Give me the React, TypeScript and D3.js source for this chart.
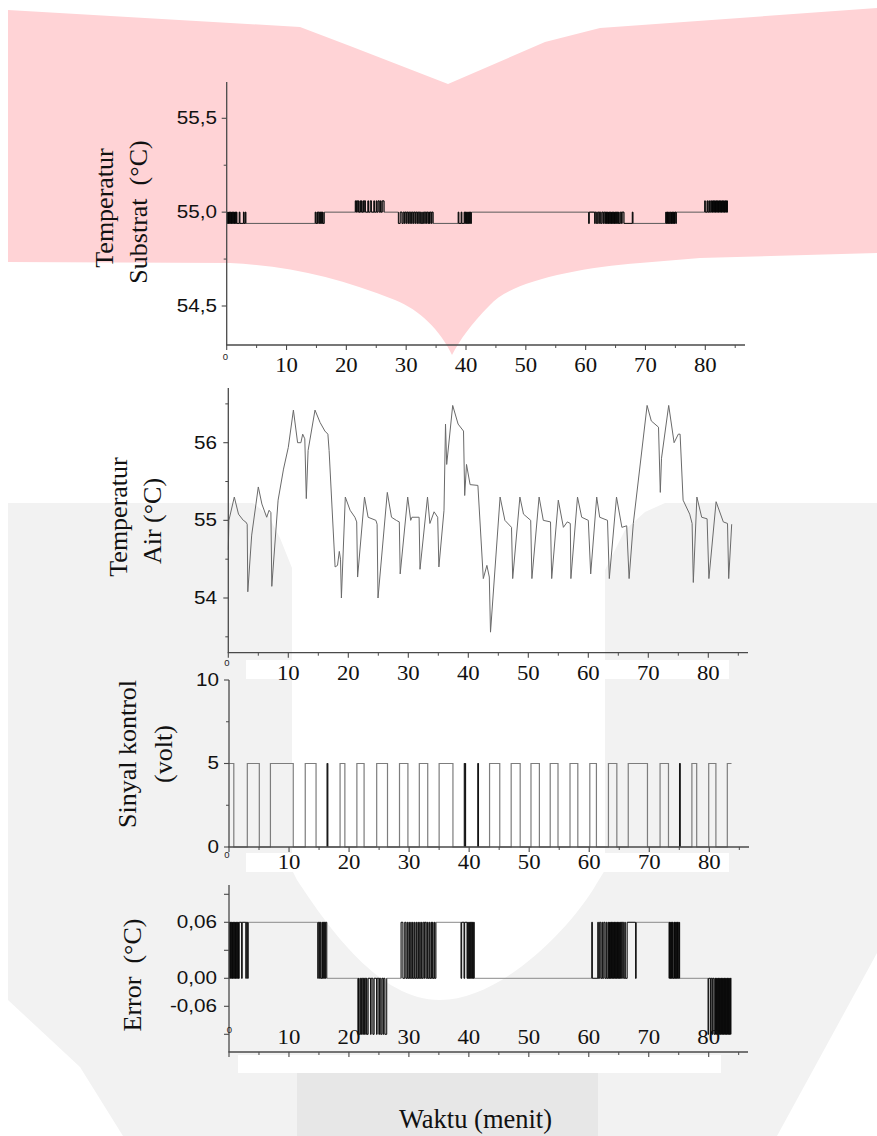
import React from 'react';
import * as d3 from 'd3';

// ---------------- DATA ----------------
const xTickValues = [0, 10, 20, 30, 40, 50, 60, 70, 80];
const xTickLabelValues = [10, 20, 30, 40, 50, 60, 70, 80];
const xMinorTicks = [5, 15, 25, 35, 45, 55, 65, 75, 85];

const substratTicks = [54.5, 55.0, 55.5];
const substratTickLabels = ['54,5', '55,0', '55,5'];
const substratMinor = [54.75, 55.25];

const airTicks = [54, 55, 56];
const airTickLabels = ['54', '55', '56'];
const airMinor = [53.5, 54.5, 55.5, 56.5];

const controlTicks = [0, 5, 10];
const controlTickLabels = ['0', '5', '10'];
const controlMinor = [2.5, 7.5];

const errorTicks = [-0.06, -0.03, 0, 0.03, 0.06, 0.09];
const errorLabelValues = [0.06, 0, -0.03];
const errorTickLabels = ['0,06', '0,00', '-0,06'];

// substrate temperature: set point and chatter bursts between two levels
const setpoint = 55.0;
const substratStart = 55.0;
const substratEnd = 83.8;
const substratBursts = [
  { a: 55.0, b: 54.94, t: [0.05, 0.15, 0.2, 0.3, 0.35, 0.45, 0.55, 0.6, 0.7, 0.8, 0.85, 0.95, 1.05, 1.1, 1.2, 1.3, 1.35, 1.45, 1.55, 1.6, 1.7, 2.1, 2.2, 2.8, 2.9, 3.1, 3.2] },
  { a: 54.94, b: 55.0, t: [14.8, 14.9, 15.1, 15.2, 15.3, 15.5, 15.6, 15.7, 15.8, 15.9, 16.0, 16.1, 16.3] },
  { a: 55.0, b: 55.06, t: [21.5, 21.6, 21.7, 21.9, 22.0, 22.1, 22.3, 22.4, 22.5, 22.6, 22.8, 22.9, 23.0, 23.2, 23.6, 23.7, 24.0, 24.2, 24.6, 24.7, 25.0, 25.1, 25.3, 25.5, 25.7, 25.8, 26.0, 26.3] },
  { a: 55.0, b: 54.94, t: [28.7, 29.0, 29.3, 29.5, 29.7, 29.8, 30.0, 30.1, 30.3, 30.4, 30.6, 30.7, 30.9, 31.0, 31.2, 31.3, 31.5, 31.6, 31.8, 31.9, 32.1, 32.2, 32.4, 32.6, 32.7, 32.9, 33.1, 33.2, 33.4, 33.5, 33.7, 33.8, 33.9, 34.0, 34.2, 34.3, 34.5] },
  { a: 54.94, b: 55.0, t: [38.7, 38.8, 39.2, 39.3, 39.7, 39.8, 39.9, 40.0, 40.1, 40.2, 40.3, 40.4, 40.5, 40.6, 40.7, 40.8, 40.9] },
  { a: 55.0, b: 54.94, t: [60.5, 60.6, 61.5, 61.6, 61.8, 62.0, 62.2, 62.3, 62.5, 62.7, 62.9, 63.0, 63.2, 63.3, 63.4, 63.45, 63.55, 63.6, 63.7, 63.8, 63.85, 63.95, 64.05, 64.1, 64.2, 64.3, 64.35, 64.45, 64.55, 64.6, 64.7, 64.8, 64.85, 64.95, 65.05, 65.1, 65.2, 65.3, 65.4, 65.5, 65.6, 65.8, 66.0, 66.1, 66.4, 67.8, 67.9] },
  { a: 54.94, b: 55.0, t: [73.4, 73.45, 73.55, 73.65, 73.7, 73.8, 73.9, 73.95, 74.05, 74.2, 74.3, 74.35, 74.45, 74.55, 74.6, 74.7, 74.8, 74.85, 74.95, 75.1, 75.15] },
  { a: 55.0, b: 55.06, t: [79.9, 80.0, 80.3, 80.4, 80.6, 80.7, 80.9, 81.05, 81.15, 81.2, 81.3, 81.4, 81.45, 81.55, 81.65, 81.7, 81.8, 81.9, 81.95, 82.05, 82.15, 82.2, 82.3, 82.4, 82.45, 82.55, 82.65, 82.7, 82.8, 82.9, 82.95, 83.05, 83.15, 83.2, 83.3, 83.4, 83.45, 83.55, 83.65, 83.7] },
];

// water temperature (time [min], °C)
const airTemperature: [number, number][] = [
  [0, 54.62], [0.1, 55.0], [1.0, 55.3], [1.7, 55.08], [2.5, 55.0], [2.9, 54.98], [3.15, 54.95], [3.25, 54.08],
  [3.9, 54.81], [5.0, 55.43], [5.6, 55.21], [6.4, 55.04], [6.8, 55.13], [7.1, 55.1], [7.25, 54.15], [8.3, 55.26],
  [9.2, 55.66], [10.0, 55.94], [10.85, 56.42], [11.55, 56.0], [12.1, 56.0], [12.4, 56.11], [12.75, 56.05], [13.0, 55.28],
  [13.3, 55.9], [14.45, 56.42], [15.3, 56.26], [16.1, 56.15], [16.6, 56.11], [16.8, 55.9], [17.8, 54.4], [18.2, 54.42],
  [18.5, 54.6], [18.7, 54.5], [18.85, 54.0], [19.5, 55.3], [20.3, 55.13], [21.1, 55.04], [21.4, 54.98], [21.55, 54.27],
  [22.7, 55.3], [23.3, 55.04], [24.6, 55.0], [24.8, 54.95], [24.95, 54.0], [26.5, 55.36], [27.2, 55.04], [28.0, 55.0],
  [28.5, 54.98], [28.65, 54.31], [29.9, 55.3], [30.4, 55.0], [30.6, 55.04], [31.8, 55.04], [31.95, 54.37], [33.2, 55.3],
  [33.6, 54.96], [34.3, 55.11], [34.9, 55.04], [35.1, 54.4], [35.95, 55.13], [36.2, 56.24], [36.4, 55.72], [37.4, 56.48],
  [38.3, 56.24], [39.2, 56.15], [39.4, 55.32], [39.7, 55.72], [40.3, 55.46], [41.6, 55.45], [42.5, 54.25], [43.1, 54.42],
  [43.5, 54.27], [43.7, 53.56], [45.3, 55.3], [46.1, 55.0], [47.2, 54.91], [47.4, 54.25], [48.6, 55.3], [49.2, 55.08],
  [50.4, 55.0], [50.6, 54.25], [51.8, 55.3], [52.5, 55.0], [53.7, 54.98], [53.9, 54.25], [55.0, 55.26], [55.85, 54.91],
  [56.5, 54.98], [57.0, 54.96], [57.1, 54.25], [58.2, 55.3], [58.9, 55.04], [60.0, 55.0], [60.4, 54.31], [61.4, 55.3],
  [61.9, 55.04], [63.2, 55.0], [63.5, 54.25], [64.7, 55.3], [65.6, 54.91], [66.4, 54.93], [66.8, 54.25], [67.5, 54.96],
  [69.8, 56.48], [70.5, 56.28], [71.7, 56.2], [72.0, 55.36], [72.2, 55.8], [73.4, 56.48], [74.3, 56.0], [75.0, 56.11],
  [75.3, 56.11], [75.8, 55.26], [76.9, 55.08], [77.3, 54.96], [77.5, 54.2], [78.1, 55.3], [78.9, 55.04], [79.8, 55.02],
  [80.1, 54.25], [81.3, 55.24], [82.5, 54.98], [83.2, 54.96], [83.4, 54.25], [83.9, 54.95],
];

// control signal: starts at 5 V, toggles 5 <-> 0
const controlStart = 5;
const controlEnd = 83.7;
const controlToggles = [
  0.8, 3.05, 5.05, 6.9, 10.7, 12.7, 14.5, 16.35, 16.45, 18.5, 19.3, 21.3, 22.5, 24.6, 26.4, 28.4, 29.8, 31.7,
  33.1, 35.0, 37.3, 39.2, 39.4, 41.45, 41.55, 43.4, 45.1, 47.0, 48.5, 50.3, 51.7, 53.5, 54.8, 56.8, 58.1, 60.1,
  61.2, 63.2, 64.6, 66.5, 69.7, 71.8, 73.2, 75.05, 75.15, 77.1, 77.9, 79.9, 81.1, 83.0,
];

// ---------------- BUILD SERIES ----------------
type Pt = [number, number];

function buildSubstrat(): Pt[] {
  const pts: Pt[] = [[0, substratStart]];
  let level = substratStart;
  substratBursts.forEach((b) => {
    b.t.forEach((t, i) => {
      level = i % 2 === 0 ? b.b : b.a;
      pts.push([t, level]);
    });
  });
  pts.push([substratEnd, level]);
  return pts;
}
function burstSegments(): Pt[][] {
  return substratBursts.map((b) => {
    const seg: Pt[] = [[b.t[0], b.a]];
    b.t.forEach((t, i) => seg.push([t, i % 2 === 0 ? b.b : b.a]));
    return seg;
  });
}
function buildControl(): Pt[] {
  const pts: Pt[] = [[0, controlStart]];
  let level = controlStart;
  controlToggles.forEach((t) => {
    level = level === 5 ? 0 : 5;
    pts.push([t, level]);
  });
  pts.push([controlEnd, level]);
  return pts;
}
function narrowPulses(): Pt[][] {
  const out: Pt[][] = [];
  let level = controlStart;
  controlToggles.forEach((t, i) => {
    level = level === 5 ? 0 : 5;
    const next = controlToggles[i + 1];
    if (level === 5 && next !== undefined && next - t < 0.3) {
      out.push([[t, 0], [t, 5], [next, 5], [next, 0]]);
    }
  });
  return out;
}

const SERIF = "'Liberation Serif', 'Times New Roman', serif";
const SANS = "'Liberation Sans', Arial, sans-serif";
const AXIS = '#4a4a4a';

type PanelCfg = {
  x: d3.ScaleLinear<number, number>;
  y: d3.ScaleLinear<number, number>;
  xEnd: number;
  yTop: number;
  yBottom: number;
  yTicks: number[];
  yMinor: number[];
  yLabelVals: number[];
  yLabels: string[];
  labelRight: number;
  xLabelBaseline: number;
  zeroPos: [number, number];
};

function Axes({ c }: { c: PanelCfg }) {
  const x0 = c.x(0);
  return (
    <g>
      <line x1={x0} y1={c.yTop} x2={x0} y2={c.yBottom} stroke={AXIS} strokeWidth={1.3} />
      <line x1={x0 - 0.6} y1={c.yBottom} x2={c.xEnd} y2={c.yBottom} stroke={AXIS} strokeWidth={1.3} />
      {xTickValues.map((v) => (
        <line key={'xt' + v} x1={c.x(v)} x2={c.x(v)} y1={c.yBottom} y2={c.yBottom + 5} stroke={AXIS} strokeWidth={1.1} />
      ))}
      {xMinorTicks.map((v) => (
        <line key={'xm' + v} x1={c.x(v)} x2={c.x(v)} y1={c.yBottom} y2={c.yBottom + 3} stroke={AXIS} strokeWidth={1} />
      ))}
      {c.yTicks.map((v) => (
        <line key={'yt' + v} x1={x0 - 5} x2={x0} y1={c.y(v)} y2={c.y(v)} stroke={AXIS} strokeWidth={1.1} />
      ))}
      {c.yMinor.map((v) => (
        <line key={'ym' + v} x1={x0 - 3} x2={x0} y1={c.y(v)} y2={c.y(v)} stroke={AXIS} strokeWidth={1} />
      ))}
      {c.yLabelVals.map((v, i) => (
        <text
          key={'yl' + v}
          transform={`translate(${c.labelRight},${c.y(v)}) scale(1.18,1)`}
          textAnchor="end"
          dominantBaseline="central"
          fontFamily={SANS}
          fontSize={17.5}
          fill="#111"
        >
          {c.yLabels[i]}
        </text>
      ))}
      {xTickLabelValues.map((v) => (
        <text
          key={'xl' + v}
          transform={`translate(${c.x(v)},${c.xLabelBaseline}) scale(1.11,1)`}
          textAnchor="middle"
          fontFamily={SERIF}
          fontSize={20.5}
          fill="#111"
        >
          {v}
        </text>
      ))}
      <text x={c.zeroPos[0]} y={c.zeroPos[1]} textAnchor="middle" fontFamily={SANS} fontSize={9.5} fill="#222">
        0
      </text>
    </g>
  );
}

function VTitle({ x, y, text }: { x: number; y: number; text: string }) {
  return (
    <text
      transform={`translate(${x},${y}) rotate(-90)`}
      textAnchor="middle"
      fontFamily={SERIF}
      fontSize={26}
      fill="#111"
      style={{ whiteSpace: 'pre' }}
    >
      {text}
    </text>
  );
}

export default function App() {
  // panel 1: substrate temperature
  const p1: PanelCfg = {
    x: d3.scaleLinear().domain([0, 80]).range([226.7, 705.3]),
    y: d3.scaleLinear().domain([54.5, 55.5]).range([306, 118.3]),
    xEnd: 745,
    yTop: 82,
    yBottom: 345,
    yTicks: substratTicks,
    yMinor: substratMinor,
    yLabelVals: substratTicks,
    yLabels: substratTickLabels,
    labelRight: 217,
    xLabelBaseline: 372,
    zeroPos: [225.5, 360],
  };
  const p2: PanelCfg = {
    x: d3.scaleLinear().domain([0, 80]).range([228.3, 708.3]),
    y: d3.scaleLinear().domain([54, 56]).range([598, 442.7]),
    xEnd: 748,
    yTop: 388,
    yBottom: 652.7,
    yTicks: airTicks,
    yMinor: airMinor,
    yLabelVals: airTicks,
    yLabels: airTickLabels,
    labelRight: 217,
    xLabelBaseline: 680,
    zeroPos: [227, 666],
  };
  const p3: PanelCfg = {
    x: d3.scaleLinear().domain([0, 80]).range([229, 709.3]),
    y: d3.scaleLinear().domain([0, 10]).range([847, 680]),
    xEnd: 749,
    yTop: 680,
    yBottom: 847,
    yTicks: controlTicks,
    yMinor: controlMinor,
    yLabelVals: controlTicks,
    yLabels: controlTickLabels,
    labelRight: 219,
    xLabelBaseline: 869,
    zeroPos: [227, 858],
  };
  const p4: PanelCfg = {
    x: d3.scaleLinear().domain([0, 80]).range([229, 708.7]),
    y: d3.scaleLinear().domain([0, 0.06]).range([978.3, 922.3]),
    xEnd: 748,
    yTop: 885,
    yBottom: 1052,
    yTicks: errorTicks,
    yMinor: [],
    yLabelVals: errorLabelValues,
    yLabels: errorTickLabels,
    labelRight: 217,
    xLabelBaseline: 1044,
    zeroPos: [229.5, 1033],
  };

  const substrat = buildSubstrat();
  const bursts = burstSegments();
  const errorPts: Pt[] = substrat.map((d) => [d[0], setpoint - d[1]]);
  const errorBursts: Pt[][] = bursts.map((s) => s.map((d) => [d[0], setpoint - d[1]] as Pt));
  const control = buildControl();
  const pulses = narrowPulses();

  const stepLine = (c: PanelCfg) =>
    d3
      .line<Pt>()
      .x((d) => c.x(d[0]))
      .y((d) => c.y(d[1]))
      .curve(d3.curveStepAfter);
  const linLine = (c: PanelCfg) =>
    d3
      .line<Pt>()
      .x((d) => c.x(d[0]))
      .y((d) => c.y(d[1]));

  const s1 = stepLine(p1);
  const s3 = stepLine(p3);
  const s4 = stepLine(p4);
  const l2 = linLine(p2);
  const l3 = linLine(p3);

  return (
    <svg
      width={877}
      height={1136}
      viewBox="0 0 877 1136"
      style={{ position: 'absolute', left: 0, top: 0, background: '#fff' }}
    >
      {/* scanned-page watermark */}
      <path
        d="M 8 10 L 300 27 L 350 46 L 448 84 L 545 42 L 600 28 L 877 8 L 877 253 L 700 258 L 640 263 C 575 268, 510 282, 490 305 C 470 325, 460 340, 452 355 C 440 330, 420 310, 395 300 C 340 278, 290 266, 230 263 L 8 262 Z"
        fill="#ffd3d6"
      />
      <path
        d="M 8 503 L 253 503 L 268 515 L 280 538 L 292 568 L 292 870 L 297 880 C 330 930, 380 1000, 440 1000 C 500 1000, 570 930, 597 883 L 605 870 L 605 570 L 625 530 L 645 512 L 665 503 L 877 503 L 877 953 L 777 1136 L 123 1136 L 80 1067 L 8 1000 Z"
        fill="#f2f2f2"
      />
      <rect x={297} y={1073} width={301} height={63} fill="#e7e7e7" />
      {/* white label strips */}
      <rect x={246} y={660} width={483} height={19} fill="#fff" />
      <rect x={246} y={853} width={483} height={19} fill="#fff" />
      <rect x={238} y={1055} width={483} height={18} fill="#fff" />

      {/* panel 1 */}
      <path d={s1(substrat) || ''} fill="none" stroke="#5a5a5a" strokeWidth={1} />
      {bursts.map((b, i) => (
        <path key={'b1' + i} d={s1(b) || ''} fill="none" stroke="#000" strokeWidth={0.8} />
      ))}
      <Axes c={p1} />
      <VTitle x={113} y={208} text="Temperatur" />
      <VTitle x={147} y={212} text={'Substrat\u00a0 (°C)'} />

      {/* panel 2 */}
      <path d={l2(airTemperature) || ''} fill="none" stroke="#6a6a6a" strokeWidth={1} />
      <Axes c={p2} />
      <VTitle x={127} y={517} text="Temperatur" />
      <VTitle x={161} y={521} text="Air (°C)" />

      {/* panel 3 */}
      <path d={s3(control) || ''} fill="none" stroke="#7d7d7d" strokeWidth={1.2} />
      {pulses.map((p, i) => (
        <path key={'pl' + i} d={l3(p) || ''} fill="none" stroke="#111" strokeWidth={1} />
      ))}
      <Axes c={p3} />
      <VTitle x={136} y={754} text="Sinyal kontrol" />
      <VTitle x={172} y={754} text="(volt)" />

      {/* panel 4 */}
      <path d={s4(errorPts) || ''} fill="none" stroke="#8a8a8a" strokeWidth={1} />
      {errorBursts.map((b, i) => (
        <path key={'b4' + i} d={s4(b) || ''} fill="none" stroke="#000" strokeWidth={0.8} />
      ))}
      <Axes c={p4} />
      <VTitle x={141} y={975} text={'Error\u00a0 (°C)'} />

      <text x={475.5} y={1128} textAnchor="middle" fontFamily={SERIF} fontSize={26.5} fill="#111">
        Waktu (menit)
      </text>
    </svg>
  );
}
